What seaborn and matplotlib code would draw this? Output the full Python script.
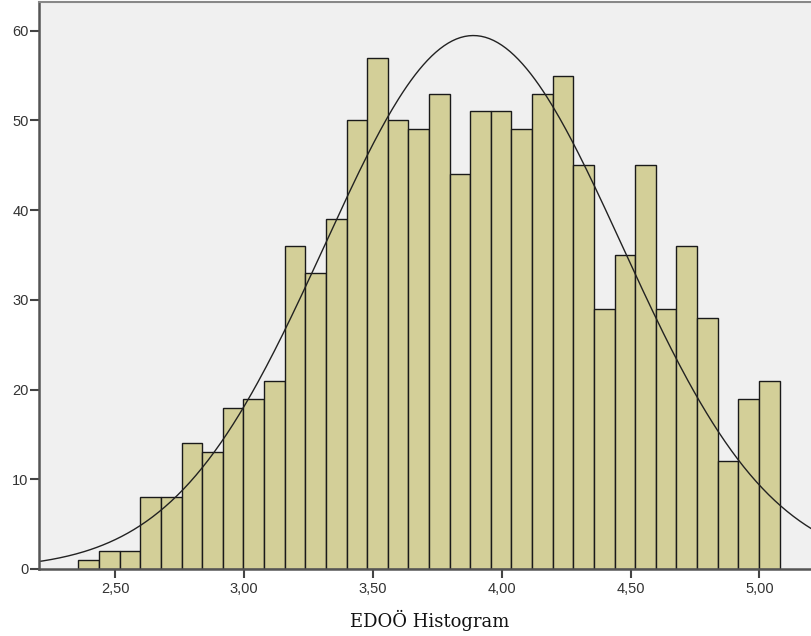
import numpy as np
import pandas as pd
import matplotlib
matplotlib.use("Agg")
import matplotlib.pyplot as plt
import seaborn as sns

# ---- data ----
counts = [1, 2, 2, 8, 8, 14, 13, 18, 19, 21,
          36, 33, 39, 50, 57, 50, 49, 53, 44, 51,
          51, 49, 53, 55, 45, 29, 35, 45, 29, 36,
          28, 12, 19, 21]
bin_start = 2.358
bin_width = 0.08
fit_mean = 3.89
fit_sd = 0.577
x_ticks = [2.5, 3.0, 3.5, 4.0, 4.5, 5.0]
x_tick_labels = ["2,50", "3,00", "3,50", "4,00", "4,50", "5,00"]
y_ticks = [0, 10, 20, 30, 40, 50, 60]
x_label = "EDOÖ Histogram"

edges = bin_start + bin_width * np.arange(len(counts) + 1)
mids = (edges[:-1] + edges[1:]) / 2
df = pd.DataFrame({"value": mids, "count": np.array(counts, dtype=float)})

sns.set_theme(style="white")
plt.rcParams['font.family'] = ['Liberation Sans', 'DejaVu Sans']

fig = plt.figure(figsize=(8.11, 6.36), dpi=100)
ax = fig.add_axes([39 / 811, 1 - 569 / 636, 1 - 39 / 811, (569 - 2) / 636])
ax.set_facecolor("#F0F0F0")

sns.histplot(data=df, x="value", weights="count",
             binwidth=bin_width, binrange=(float(edges[0]), float(edges[-1])), ax=ax,
             color="#D3CF98", alpha=1.0, edgecolor="#1a1a1a", linewidth=1.0)

N = sum(counts)
xs = np.linspace(2.1, 5.3, 400)
ys = N * bin_width * np.exp(-0.5 * ((xs - fit_mean) / fit_sd) ** 2) / (fit_sd * np.sqrt(2 * np.pi))
ax.plot(xs, ys, color="#222222", linewidth=1.0)

ax.set_xlim(2.205, 5.2)
ax.set_ylim(0, 63.2)
ax.set_xticks(x_ticks)
ax.set_xticklabels(x_tick_labels)
ax.set_yticks(y_ticks)
ax.set_yticklabels([str(v) for v in y_ticks])
ax.tick_params(axis="both", which="both", direction="out", length=6.5, width=1.5,
               color="#444444", labelsize=10.5, labelcolor="#333333",
               bottom=True, left=True)
ax.tick_params(axis="y", pad=1)
ax.tick_params(axis="x", pad=3)
ax.set_ylabel("")
ax.set_xlabel(x_label, fontsize=13, family=["DejaVu Serif"],
              color="#111111", va="center")
ax.xaxis.set_label_coords((430 - 39) / (811 - 39), (569 - 620) / 567)

for s in ["left", "bottom"]:
    ax.spines[s].set_color("#555555")
    ax.spines[s].set_linewidth(1.8)
ax.spines["top"].set_color("#888888")
ax.spines["top"].set_linewidth(1.5)
ax.spines["right"].set_visible(False)

fig.savefig("out.png", dpi=100)
